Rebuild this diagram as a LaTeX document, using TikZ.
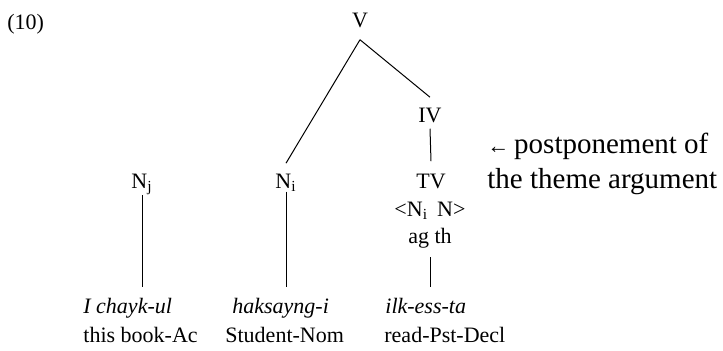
\documentclass[tikz,border=0pt]{standalone}
\usepackage{fontspec}
\setmainfont{Liberation Serif}
\usetikzlibrary{positioning}

\begin{document}
\begin{tikzpicture}[
    x=0.5pt, y=-0.5pt,
    cat/.style={inner sep=0pt, anchor=base, font=\fontsize{11}{13}\selectfont},
    word/.style={inner sep=0pt, anchor=base west, font=\fontsize{11}{13}\selectfont\itshape},
    gloss/.style={inner sep=0pt, anchor=base west, font=\fontsize{11}{13}\selectfont},
    note/.style={inner sep=0pt, anchor=base west, font=\fontsize{11}{13}\selectfont},
    remark/.style={inner sep=0pt, anchor=base west, font=\fontsize{14.5}{17}\selectfont},
    branch/.style={line width=0.5pt}
]
\useasboundingbox (0,0) rectangle (723,350);

% Example number
\node[note] (num) at (7,29) {(10)};

% Tree nodes
\node[cat] (V) at (360,27) {V};
\node[cat] (IV) at (430,122) {IV};
\node[cat] (Nj) at (142,188) {N\textsubscript{j}};
\node[cat] (Ni) at (286,188) {N\textsubscript{i}};
\node[cat] (TV) at (431,188) {TV};
\node[cat] (args) at (430,216) {<N\textsubscript{i}\, N>};
\node[cat] (roles) at (430,243) {ag th};

% Annotation
\node[remark] (post) at (487,153) {{\fontsize{11}{13}\selectfont←}\,postponement of};
\node[remark] (theme) at (487,188) {the theme argument};

% Words and glosses
\node[word] (chayk) at (83,313) {I chayk-ul};
\node[word] (haksayng) at (232,313) {haksayng-i};
\node[word] (ilk) at (385,313) {ilk-ess-ta};
\node[gloss] (book) at (83,342) {this book-Ac};
\node[gloss] (student) at (225,342) {Student-Nom};
\node[gloss] (read) at (384,342) {read-Pst-Decl};

% Branches
\draw[branch] ([yshift=-6pt]V.south) -- ([yshift=5pt]Ni.north);
\draw[branch] ([yshift=-6pt]V.south) -- ([yshift=5pt]IV.north);
\draw[branch] ([yshift=-3pt]IV.south) -- ([yshift=6pt]TV.north);

% Lines down to the words
\draw[branch, shorten >=5pt] (Nj.south) -- (Nj.south |- chayk.north);
\draw[branch, shorten >=5pt] (Ni.south) -- (Ni.south |- haksayng.north);
\draw[branch, shorten <=4.5pt, shorten >=5pt] (roles.south) -- (roles.south |- ilk.north);

\end{tikzpicture}
\end{document}
